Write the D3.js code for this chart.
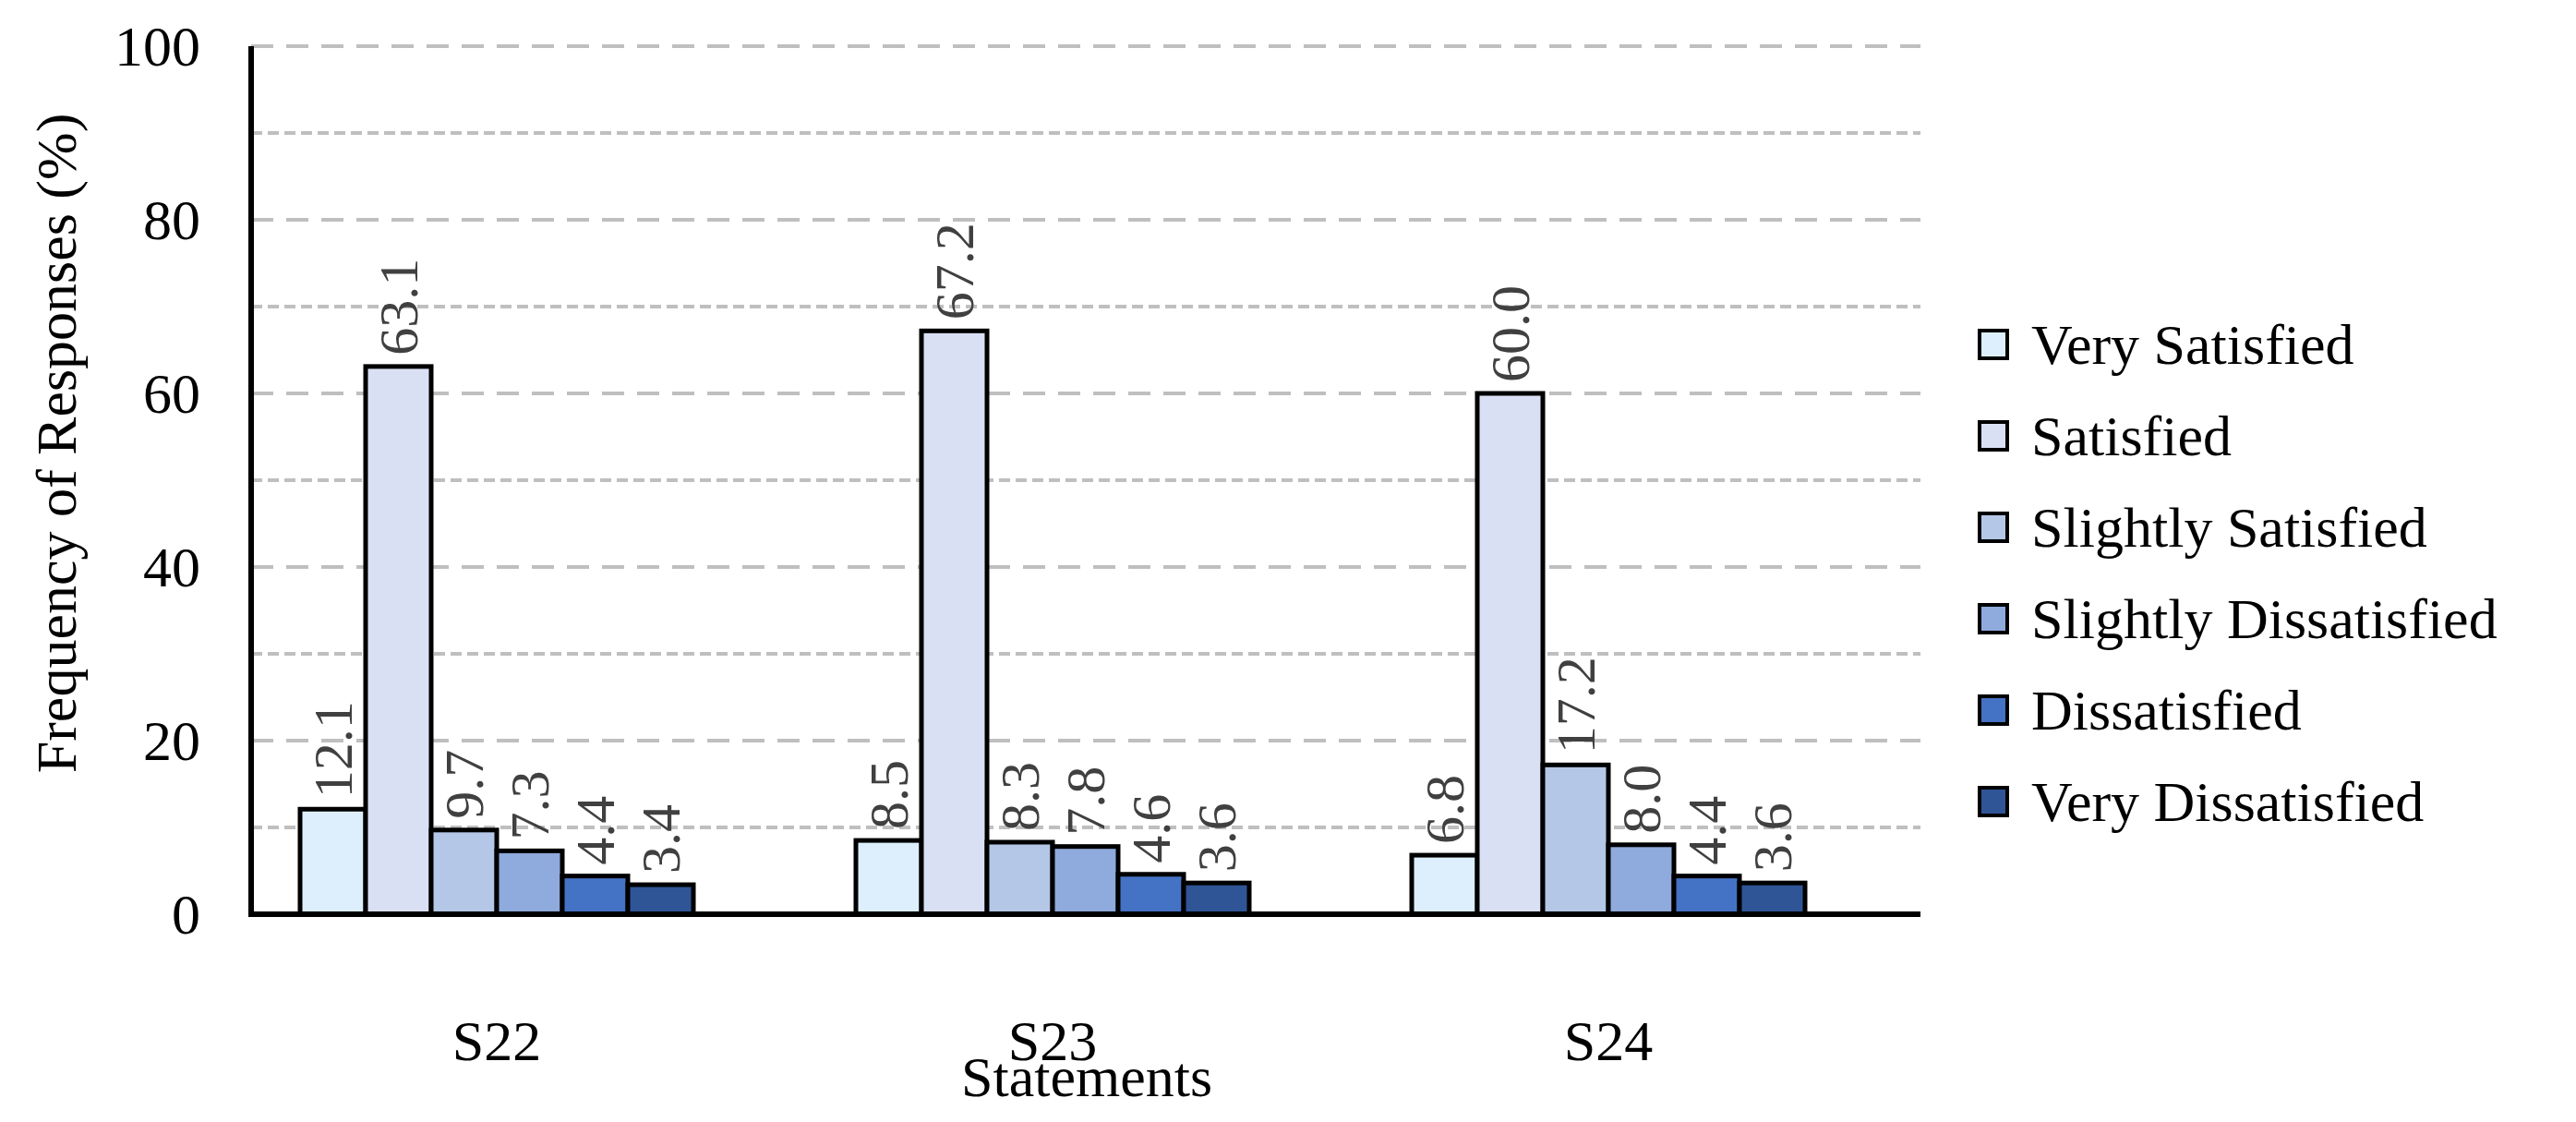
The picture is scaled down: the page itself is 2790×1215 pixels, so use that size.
<!DOCTYPE html>
<html>
  <head>
    <meta charset="utf-8">
    <title>Frequency of Responses</title>
    <script src="https://d3js.org/d3.v7.min.js"></script>
    <style>
      body { margin: 0; background: #fff; font-family: "Liberation Serif", "Times New Roman", serif; }
    </style>
  </head>
  <body>
    <svg></svg>
    <script>
      // Data
      var statements = ["S22", "S23", "S24"];
      var levels = ["Very Satisfied", "Satisfied", "Slightly Satisfied", "Slightly Dissatisfied", "Dissatisfied", "Very Dissatisfied"];
      var colors = ["#ddeffd", "#dae0f4", "#b4c7e7", "#8faadc", "#4472c4", "#2f5597"];
      var s22 = [12.1, 63.1, 9.7, 7.3, 4.4, 3.4];
      var s23 = [8.5, 67.2, 8.3, 7.8, 4.6, 3.6];
      var s24 = [6.8, 60.0, 17.2, 8.0, 4.4, 3.6];
      var yTicks = [0, 20, 40, 60, 80, 100];

      var values = [s22, s23, s24];

      var svg = d3.select("svg").attr("width", 2790).attr("height", 1215);

      var axisLeft = 272, axisRight = 2080;
      var y = d3.scaleLinear().domain([0, 100]).range([990, 50]);
      var x0 = d3.scaleBand().domain(statements).range([237, 2043]).paddingInner(0).paddingOuter(0);
      var x1 = d3.scaleBand().domain(levels).range([0, 426]);
      var groupOff = (x0.bandwidth() - 426) / 2;

      // Gridlines every 10
      d3.range(10, 101, 10).forEach(function(v) {
        svg.append("line")
          .attr("x1", axisLeft).attr("x2", axisRight)
          .attr("y1", y(v)).attr("y2", y(v))
          .attr("stroke", "#bfbfbf").attr("stroke-width", 4)
          .attr("stroke-dasharray", v % 20 === 0 ? "24,14" : "12,6");
      });

      // Bars
      var groups = svg.selectAll("g.grp").data(statements).enter().append("g")
        .attr("transform", function(d) { return "translate(" + (x0(d) + groupOff) + ",0)"; });

      groups.each(function(s, i) {
        var g = d3.select(this);
        var rows = levels.map(function(l, j) { return { level: l, value: values[i][j], color: colors[j] }; });
        g.selectAll("rect").data(rows).enter().append("rect")
          .attr("x", function(d) { return x1(d.level); })
          .attr("y", function(d) { return y(d.value); })
          .attr("width", x1.bandwidth())
          .attr("height", function(d) { return y(0) - y(d.value); })
          .attr("fill", function(d) { return d.color; })
          .attr("stroke", "#000").attr("stroke-width", 5);
        g.selectAll("text").data(rows).enter().append("text")
          .attr("transform", function(d) {
            return "translate(" + (x1(d.level) + x1.bandwidth() / 2 + 20) + "," + (y(d.value) - 12) + ") rotate(-90)";
          })
          .attr("font-size", 60).attr("fill", "#404040")
          .text(function(d) { return d.value.toFixed(1); });
      });

      // Axes lines
      svg.append("line").attr("x1", axisLeft).attr("x2", axisLeft).attr("y1", y(100)).attr("y2", y(0) + 3)
        .attr("stroke", "#000").attr("stroke-width", 6);
      svg.append("line").attr("x1", axisLeft - 3).attr("x2", axisRight).attr("y1", y(0)).attr("y2", y(0))
        .attr("stroke", "#000").attr("stroke-width", 6);

      // Tick labels
      svg.selectAll("text.yt").data(yTicks).enter().append("text")
        .attr("x", 217).attr("y", function(d) { return y(d) + 21; })
        .attr("text-anchor", "end").attr("font-size", 62)
        .text(function(d) { return d; });

      svg.selectAll("text.xt").data(statements).enter().append("text")
        .attr("x", function(d) { return x0(d) + x0.bandwidth() / 2; })
        .attr("y", 1148).attr("text-anchor", "middle").attr("font-size", 62)
        .text(function(d) { return d; });

      // Axis titles
      svg.append("text").attr("x", 1177).attr("y", 1187).attr("text-anchor", "middle")
        .attr("font-size", 62).text("Statements");
      svg.append("text").attr("transform", "translate(82,480) rotate(-90)")
        .attr("text-anchor", "middle").attr("font-size", 62).text("Frequency of Responses (%)");

      // Legend
      var lg = svg.selectAll("g.lg").data(levels).enter().append("g")
        .attr("transform", function(d, i) { return "translate(2144," + (373 + i * 99) + ")"; });
      lg.append("rect").attr("x", 0).attr("y", -15).attr("width", 30).attr("height", 30)
        .attr("fill", function(d, i) { return colors[i]; })
        .attr("stroke", "#000").attr("stroke-width", 4);
      lg.append("text").attr("x", 56).attr("y", 21).attr("font-size", 62)
        .text(function(d) { return d; });
    </script>
  </body>
</html>
